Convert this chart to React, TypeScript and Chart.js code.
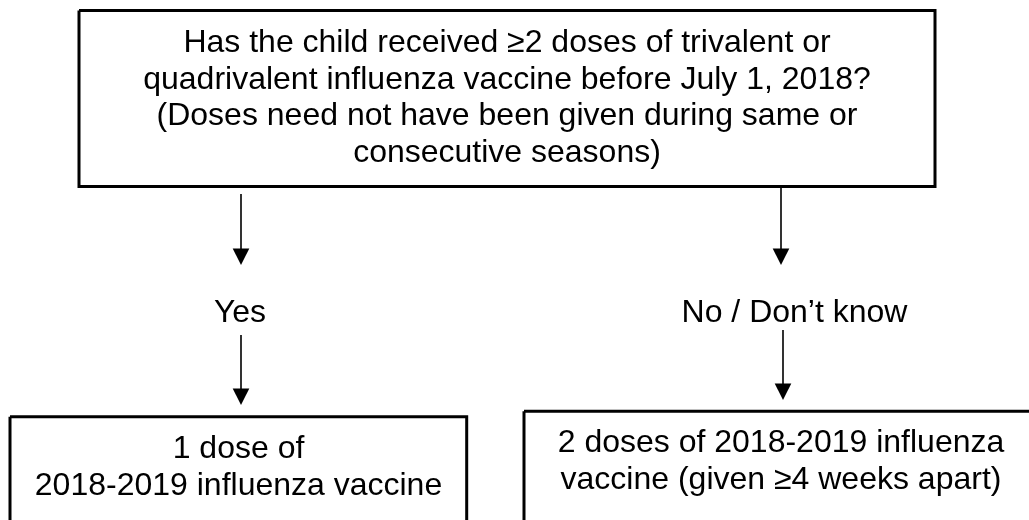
import React, { useEffect, useRef } from "react";
import { Chart, registerables } from "chart.js";

Chart.register(...registerables);

// ---- Text content ----
const questionLines = [
  "Has the child received \u22652 doses of trivalent or",
  "quadrivalent influenza vaccine before July 1, 2018?",
  "(Doses need not have been given during same or",
  "consecutive seasons)",
];
const answerLabels = ["Yes", "No / Don\u2019t know"];
const yesOutcomeLines = ["1 dose of", "2018-2019 influenza vaccine"];
const noOutcomeLines = ["2 doses of 2018-2019 influenza", "vaccine (given \u22654 weeks apart)"];

// ---- Layout in chart units (x: 0..1029, y: 0..520 top-down) ----
const boxLeft = [79, 10, 524];
const boxRight = [935, 466.7, 1045];
const boxTop = [10.5, 416.7, 411.3];
const boxBottom = [186.5, 545, 545];

const arrowX = [241, 781, 241, 783];
const arrowStart = [194, 186.5, 335, 330];
const arrowTip = [265, 265, 405, 400];

const questionX = 507;
const questionBaselines = [52, 88.5, 125, 161.5];
const answerX = [240, 794.5];
const answerBaseline = 322;
const yesOutcomeX = 238.5;
const yesOutcomeBaselines = [458, 495];
const noOutcomeX = 781;
const noOutcomeBaselines = [452, 488.5];

const FONT = "32px 'Liberation Sans', Arial, Helvetica, sans-serif";
const HEAD_LEN = 16.5;
const HEAD_HALF = 8.3;

export default function App() {
  const canvasRef = useRef<HTMLCanvasElement | null>(null);

  useEffect(() => {
    const canvas = canvasRef.current;
    if (!canvas) return;

    const boxDatasets = boxLeft.map((l, i) => ({
      label: "box" + i,
      data: [
        { x: l, y: boxTop[i] },
        { x: boxRight[i], y: boxTop[i] },
        { x: boxRight[i], y: boxBottom[i] },
        { x: l, y: boxBottom[i] },
        { x: l, y: boxTop[i] },
      ],
      showLine: true,
      borderColor: "#000",
      borderWidth: 3,
      borderJoinStyle: "miter" as const,
      pointRadius: 0,
      fill: false,
    }));

    const shaftDatasets = arrowX.map((x, i) => ({
      label: "arrow" + i,
      data: [
        { x, y: arrowStart[i] },
        { x, y: arrowTip[i] - HEAD_LEN + 1 },
      ],
      showLine: true,
      borderColor: "#000",
      borderWidth: 1.6,
      pointRadius: 0,
      fill: false,
    }));

    const flowPlugin = {
      id: "flowText",
      afterDatasetsDraw(chart: any) {
        const ctx = chart.ctx as CanvasRenderingContext2D;
        const xs = chart.scales.x;
        const ys = chart.scales.y;
        const px = (v: number) => xs.getPixelForValue(v);
        const py = (v: number) => ys.getPixelForValue(v);
        ctx.save();
        // arrowheads
        ctx.fillStyle = "#000";
        arrowX.forEach((x, i) => {
          const tipY = py(arrowTip[i]);
          const cx = px(x);
          ctx.beginPath();
          ctx.moveTo(cx, tipY);
          ctx.lineTo(cx - HEAD_HALF, tipY - HEAD_LEN);
          ctx.lineTo(cx + HEAD_HALF, tipY - HEAD_LEN);
          ctx.closePath();
          ctx.fill();
        });
        // texts
        ctx.font = FONT;
        ctx.textAlign = "center";
        ctx.textBaseline = "alphabetic";
        questionLines.forEach((t, i) => ctx.fillText(t, px(questionX), py(questionBaselines[i])));
        answerLabels.forEach((t, i) => ctx.fillText(t, px(answerX[i]), py(answerBaseline)));
        yesOutcomeLines.forEach((t, i) => ctx.fillText(t, px(yesOutcomeX), py(yesOutcomeBaselines[i])));
        noOutcomeLines.forEach((t, i) => ctx.fillText(t, px(noOutcomeX), py(noOutcomeBaselines[i])));
        ctx.restore();
      },
    };

    const chart = new Chart(canvas, {
      type: "scatter",
      data: { datasets: [...boxDatasets, ...shaftDatasets] as any },
      options: {
        animation: false,
        responsive: false,
        devicePixelRatio: 1,
        layout: { padding: 0 },
        plugins: {
          legend: { display: false },
          tooltip: { enabled: false },
        },
        scales: {
          x: { type: "linear", min: 0, max: 1029, display: false },
          y: { type: "linear", min: 0, max: 520, reverse: true, display: false },
        },
      },
      plugins: [flowPlugin],
    });

    return () => chart.destroy();
  }, []);

  return (
    <div style={{ position: "fixed", left: 0, top: 0, width: 1029, height: 520, background: "#fff" }}>
      <canvas ref={canvasRef} width={1029} height={520} style={{ display: "block" }} />
    </div>
  );
}
